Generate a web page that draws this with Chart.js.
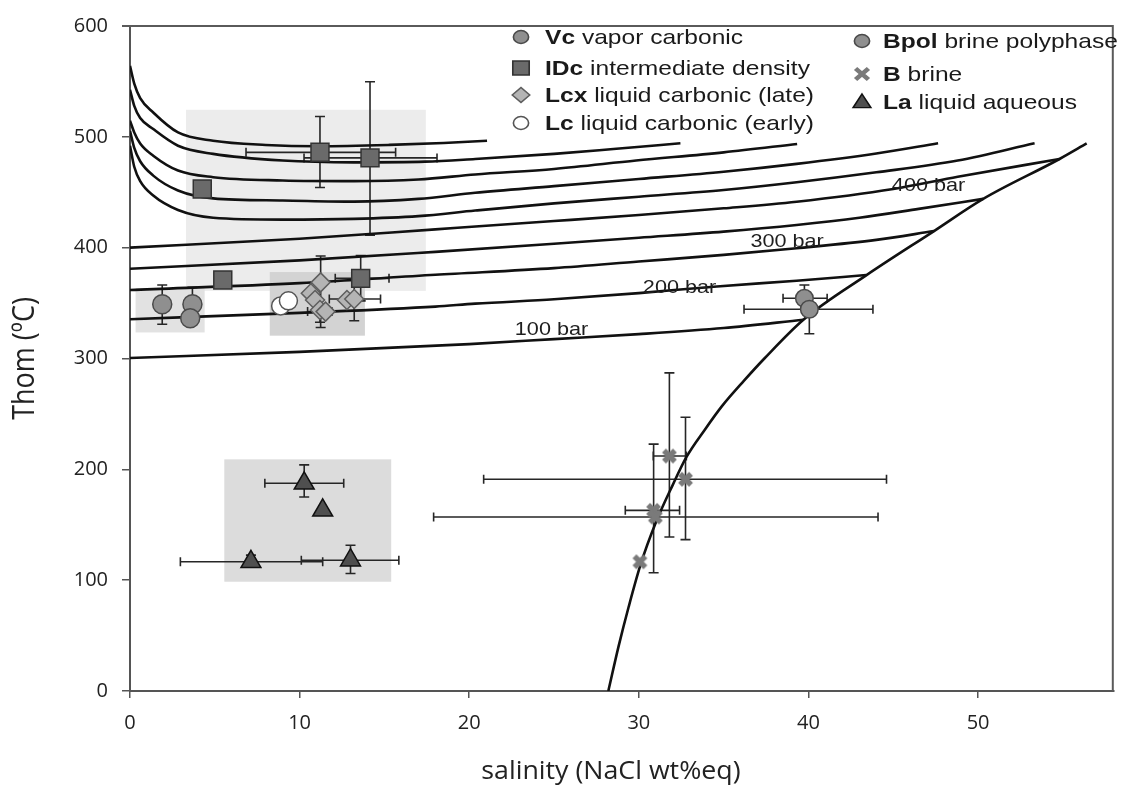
<!DOCTYPE html>
<html><head><meta charset="utf-8">
<script src="https://cdn.jsdelivr.net/npm/chart.js@4.4.0/dist/chart.umd.min.js"></script>
<style>html,body{margin:0;padding:0;background:#fff;}canvas{display:block;}</style>
</head><body>
<canvas id="c" width="1128" height="787" style="width:1128px;height:787px"></canvas>
<script>
// ---------- tick labels ----------
const xTicks = [0, 10, 20, 30, 40, 50];
const yTicks = [0, 100, 200, 300, 400, 500, 600];

// ---------- inclusion data (x = salinity, y = Thom) ----------
const vcX = [1.9, 3.68, 3.55];
const vcY = [349, 349, 336.3];
const vcXErr = [null, null, null];
const vcYErr = [[330.9, 366.3], [349, 364.2], null];

const idcX = [11.2, 14.15, 4.26, 5.47, 13.6];
const idcY = [486, 481, 453, 370.8, 372.3];
const idcXErr = [[6.84, 15.66], [10.26, 18.1], null, null, [12.1, 15.27]];
const idcYErr = [[454.3, 518.4], [411.2, 549.7], null, null, [352, 393]];

const lcxX = [11.24, 10.66, 10.91, 11.2, 11.53, 12.79, 13.22];
const lcxY = [368.7, 358.8, 352.8, 343.8, 342.3, 352.8, 353.7];
const lcxXErr = [null, null, null, null, [10.47, 11.9], null, [11.75, 14.77]];
const lcxYErr = [[328, 392.5], null, null, [332.7, 371.7], null, null, [334, 372]];

const lcX = [8.88, 9.34];
const lcY = [347.4, 352];

const bpolX = [39.76, 40.05];
const bpolY = [354.3, 344.4];
const bpolXErr = [[38.5, 41.1], [36.2, 43.8]];
const bpolYErr = [[354.3, 366.3], [322.3, 344.4]];

const brineX = [31.8, 32.75, 30.87, 30.97, 30.06];
const brineY = [212, 191, 163, 157, 116.6];
const brineXErr = [[30.85, 32.8], [20.85, 44.6], [29.2, 32.4], [17.9, 44.1], null];
const brineYErr = [[139, 287], [136.6, 247], [106.7, 222.7], null, null];

const laX = [10.27, 11.36, 7.13, 13.0];
const laY = [187.4, 163, 116.6, 118];
const laXErr = [[7.95, 12.6], null, [2.97, 11.36], [10.1, 15.85]];
const laYErr = [[175, 204], null, [113, 122.6], [106, 131.5]];

// ---------- shaded fields (salinity / Thom ranges) ----------
const boxX0 = [3.3, 0.33, 8.24, 5.56];
const boxX1 = [17.44, 4.4, 13.85, 15.4];
const boxY0 = [361, 323.5, 320.6, 98.6];
const boxY1 = [524.4, 363.5, 378, 209];

// ---------- isobars ----------
const iso1X = [0, 10, 20, 25, 30, 35, 39.7];
const iso1Y = [300.4, 306, 313, 317.5, 322, 327.5, 334.9];
const iso2X = [0, 10, 18, 20.35, 25, 30, 34.6, 39.3, 43.4];
const iso2Y = [335.4, 341.2, 346.8, 349.5, 353.4, 359, 365, 370.2, 375.3];
const iso3X = [0, 10, 18, 25, 30, 35, 39.3, 44, 47.4];
const iso3Y = [361.8, 368, 375.5, 381.5, 387.5, 393.5, 399.5, 407, 415];
const iso4X = [0, 10, 18, 25, 30, 35, 39.3, 43, 46.5, 50.3];
const iso4Y = [381, 388.5, 396.2, 403.5, 409, 414.5, 420.5, 427, 435, 444];
const iso5X = [0, 10, 18, 25, 30, 35, 39.3, 45, 48.8, 54.8];
const iso5Y = [400, 408, 416.5, 424, 429.5, 435.5, 441.5, 453, 464, 480];
const iso6X = [0, 0.25, 0.6, 1.37, 2.83, 4.9, 9, 13.2, 17, 20.35, 25, 30, 35, 39.3, 44, 48.8, 53.33];
const iso6Y = [492, 473, 460, 447, 434, 427, 425.3, 426, 428.5, 433.5, 440, 446, 452, 459, 468, 478.6, 494.2];
const iso7X = [0, 0.25, 0.6, 1.37, 2.83, 4.9, 9, 13.2, 17, 20.35, 25, 30, 35, 39.3, 44, 47.64];
const iso7Y = [505.5, 490, 478, 465, 451.6, 444.5, 442.6, 441.5, 444, 449.5, 455.5, 462, 468.5, 475.6, 485, 494.2];
const iso8X = [0, 0.25, 0.6, 1.37, 2.83, 4.9, 9, 13.2, 17, 20.35, 25, 29.84, 35, 39.33];
const iso8Y = [514.5, 504, 494, 483, 469.6, 463.6, 460.6, 460, 461.5, 466, 471, 478.6, 486, 493.6];
const iso9X = [0, 0.25, 0.6, 1.37, 2.83, 4.9, 9, 13.2, 17.4, 20.35, 25, 28.5, 32.45];
const iso9Y = [542.5, 528, 517, 507, 492, 484.6, 478.6, 477, 477.6, 480, 484.6, 489, 494.2];
const iso10X = [0, 0.25, 0.6, 1.37, 2.83, 4.9, 8, 11.1, 15.3, 18.5, 21.05];
const iso10Y = [564, 548, 535, 522, 504, 496.5, 492.7, 491.5, 492.7, 494.5, 496.5];

// halite saturation curve
const haliteX = [28.2, 28.8, 29.4, 30.1, 31.0, 32.0, 32.8, 33.9, 34.9, 36.2, 37.4, 39.7, 43.4, 47.4, 50.3, 54.8, 56.4];
const haliteY = [0, 40, 76, 114, 152, 186, 211, 236, 257, 280, 300, 335, 375, 415, 444, 480, 494];

// isobar labels
const barLabels = ['100 bar', '200 bar', '300 bar', '400 bar'];
const barLabelX = [24.85, 32.4, 38.74, 47.08];
const barLabelY = [325.5, 363.8, 404.8, 455.4];

// legend
const legendBold = ['Vc', 'IDc', 'Lcx', 'Lc', 'Bpol', 'B', 'La'];
const legendText = [' vapor carbonic', ' intermediate density', ' liquid carbonic (late)', ' liquid carbonic (early)', ' brine polyphase', ' brine', ' liquid aqueous'];

// ---------- styling ----------
const STRETCH = 1.17;
const boxFill = ['#ececec', '#e2e2e2', '#d3d3d3', '#dcdcdc'];
const styles = {
  vc:   {shape: 'circle', fill: '#8f8f8f', stroke: '#4a4a4a'},
  idc:  {shape: 'rect', fill: '#6a6a6a', stroke: '#333333'},
  lcx:  {shape: 'rectRot', fill: '#b4b4b4', stroke: '#5e5e5e'},
  lc:   {shape: 'circle', fill: '#ffffff', stroke: '#555555'},
  bpol: {shape: 'circle', fill: '#8f8f8f', stroke: '#4a4a4a'},
  brine:{shape: 'x', fill: '#7a7a7a', stroke: '#7a7a7a'},
  la:   {shape: 'triangle', fill: '#4f4f4f', stroke: '#111111'}
};

function makeX(size, lw, color) {
  const c = document.createElement('canvas');
  c.width = size; c.height = size;
  const g = c.getContext('2d');
  g.strokeStyle = color; g.lineWidth = lw; g.lineCap = 'butt';
  const m = lw * 0.55;
  g.beginPath();
  g.moveTo(m, m); g.lineTo(size - m, size - m);
  g.moveTo(size - m, m); g.lineTo(m, size - m);
  g.stroke();
  return c;
}
const brineImg = makeX(17, 5.5, '#7a7a7a');

const pts = (xs, ys) => xs.map((v, i) => ({x: v, y: ys[i]}));
function markerSet(label, xs, ys, st, r) {
  return {
    label, data: pts(xs, ys), showLine: false, order: 0,
    pointStyle: st.shape === 'x' ? brineImg : st.shape,
    pointRadius: r, pointHoverRadius: r,
    backgroundColor: st.fill, borderColor: st.stroke, borderWidth: 1.5
  };
}
function lineSet(xs, ys) {
  return {
    data: pts(xs, ys), showLine: true, pointRadius: 0, borderColor: '#111',
    borderWidth: 2.6, cubicInterpolationMode: 'monotone', fill: false, order: 5
  };
}

const errorGroups = [
  [vcX, vcY, vcXErr, vcYErr], [idcX, idcY, idcXErr, idcYErr], [lcxX, lcxY, lcxXErr, lcxYErr],
  [bpolX, bpolY, bpolXErr, bpolYErr], [brineX, brineY, brineXErr, brineYErr], [laX, laY, laXErr, laYErr]
];

function drawShape(ctx, shape, x, y, r, fill, stroke) {
  ctx.beginPath();
  if (shape === 'circle') ctx.arc(x, y, r, 0, Math.PI * 2);
  else if (shape === 'rect') ctx.rect(x - r, y - r, 2 * r, 2 * r);
  else if (shape === 'rectRot') { ctx.moveTo(x - r, y); ctx.lineTo(x, y - r); ctx.lineTo(x + r, y); ctx.lineTo(x, y + r); ctx.closePath(); }
  else if (shape === 'triangle') { ctx.moveTo(x, y - r); ctx.lineTo(x + r * 0.95, y + r * 0.7); ctx.lineTo(x - r * 0.95, y + r * 0.7); ctx.closePath(); }
  if (shape === 'x') {
    ctx.strokeStyle = fill; ctx.lineWidth = 4;
    ctx.moveTo(x - r, y - r); ctx.lineTo(x + r, y + r);
    ctx.moveTo(x + r, y - r); ctx.lineTo(x - r, y + r);
    ctx.stroke(); return;
  }
  ctx.fillStyle = fill; ctx.fill();
  ctx.strokeStyle = stroke; ctx.lineWidth = 1.4; ctx.stroke();
}

function stretchedText(ctx, parts, x, y, S, align) {
  ctx.save();
  ctx.translate(x, y); ctx.scale(S, 1);
  ctx.textBaseline = 'middle';
  let total = 0;
  parts.forEach(p => { ctx.font = p.font; total += ctx.measureText(p.t).width; });
  let cx = align === 'center' ? -total / 2 : 0;
  ctx.textAlign = 'left';
  parts.forEach(p => { ctx.font = p.font; ctx.fillStyle = p.color || '#222'; ctx.fillText(p.t, cx, 0); cx += ctx.measureText(p.t).width; });
  ctx.restore();
}

const extras = {
  id: 'extras',
  beforeDatasetsDraw(chart) {
    const {ctx, scales: {x, y}} = chart;
    ctx.save();
    boxX0.forEach((v, i) => {
      const px0 = x.getPixelForValue(v), px1 = x.getPixelForValue(boxX1[i]);
      const py0 = y.getPixelForValue(boxY1[i]), py1 = y.getPixelForValue(boxY0[i]);
      ctx.fillStyle = boxFill[i];
      ctx.fillRect(px0, py0, px1 - px0, py1 - py0);
    });
    ctx.strokeStyle = '#262626'; ctx.lineWidth = 1.6;
    errorGroups.forEach(([xs, ys, xe, ye]) => {
      xs.forEach((xv, i) => {
        const px = x.getPixelForValue(xv), py = y.getPixelForValue(ys[i]);
        if (xe[i]) {
          const a = x.getPixelForValue(xe[i][0]), b = x.getPixelForValue(xe[i][1]);
          ctx.beginPath();
          ctx.moveTo(a, py); ctx.lineTo(b, py);
          ctx.moveTo(a, py - 4.5); ctx.lineTo(a, py + 4.5);
          ctx.moveTo(b, py - 4.5); ctx.lineTo(b, py + 4.5);
          ctx.stroke();
        }
        if (ye[i]) {
          const a = y.getPixelForValue(ye[i][0]), b = y.getPixelForValue(ye[i][1]);
          ctx.beginPath();
          ctx.moveTo(px, a); ctx.lineTo(px, b);
          ctx.moveTo(px - 5, a); ctx.lineTo(px + 5, a);
          ctx.moveTo(px - 5, b); ctx.lineTo(px + 5, b);
          ctx.stroke();
        }
      });
    });
    ctx.restore();
  },
  afterDatasetsDraw(chart) {
    const {ctx, scales: {x, y}} = chart;
    barLabels.forEach((t, i) => {
      stretchedText(ctx, [{t, font: '18.5px "Liberation Sans", Arial, sans-serif', color: '#1e1e1e'}],
        x.getPixelForValue(barLabelX[i]), y.getPixelForValue(barLabelY[i]), STRETCH, 'center');
    });
  },
  afterDraw(chart) {
    const {ctx, chartArea: a} = chart;
    ctx.save();
    // frame top and right
    ctx.strokeStyle = '#5a5a5a'; ctx.lineWidth = 2;
    ctx.beginPath();
    ctx.moveTo(a.left - 8, a.top); ctx.lineTo(a.right, a.top);
    ctx.moveTo(a.right - 1, a.top); ctx.lineTo(a.right - 1, a.bottom);
    ctx.stroke();
    // legend
    const keys = ['vc', 'idc', 'lcx', 'lc', 'bpol', 'brine', 'la'];
    const mx = [521, 521, 521, 521, 862, 862, 862];
    const tx = [545, 545, 545, 545, 883, 883, 883];
    const ly = [37, 68, 95, 123, 41, 74, 102];
    const mr = [6.5, 7, 7.5, 6.5, 6.5, 5.5, 8];
    keys.forEach((k, i) => {
      const st = styles[k];
      ctx.save();
      ctx.translate(mx[i], ly[i]); ctx.scale(STRETCH, 1);
      drawShape(ctx, st.shape, 0, 0, mr[i], st.fill, st.stroke);
      ctx.restore();
      stretchedText(ctx, [
        {t: legendBold[i], font: 'bold 21px "Liberation Sans", Arial, sans-serif', color: '#1a1a1a'},
        {t: legendText[i], font: '21px "Liberation Sans", Arial, sans-serif', color: '#1a1a1a'}
      ], tx[i], ly[i] + 1, STRETCH, 'left');
    });
    // axis titles
    stretchedText(ctx, [{t: 'salinity (NaCl wt%eq)', font: '25px "Open Sans", sans-serif', color: '#222'}],
      (a.left + a.right) / 2 - 11, 772, 1.07, 'center');
    ctx.save();
    ctx.translate(25, (a.top + a.bottom) / 2);
    ctx.rotate(-Math.PI / 2);
    ctx.scale(1, STRETCH);
    ctx.font = '27px "Open Sans", sans-serif';
    ctx.fillStyle = '#222';
    ctx.textAlign = 'center'; ctx.textBaseline = 'middle';
    ctx.fillText('Thom (ºC)', 0, 0);
    ctx.restore();
    ctx.restore();
  }
};

Chart.defaults.font.family = '"Open Sans", sans-serif';
new Chart(document.getElementById('c'), {
  type: 'scatter',
  data: {
    datasets: [
      markerSet('Vc vapor carbonic', vcX, vcY, styles.vc, 9.5),
      markerSet('IDc intermediate density', idcX, idcY, styles.idc, 12.7),
      markerSet('Lcx liquid carbonic (late)', lcxX, lcxY, styles.lcx, 9.5),
      markerSet('Lc liquid carbonic (early)', lcX, lcY, styles.lc, 9),
      markerSet('Bpol brine polyphase', bpolX, bpolY, styles.bpol, 8.8),
      markerSet('B brine', brineX, brineY, styles.brine, 8.5),
      markerSet('La liquid aqueous', laX, laY, styles.la, 11.5),
      lineSet(iso1X, iso1Y), lineSet(iso2X, iso2Y), lineSet(iso3X, iso3Y), lineSet(iso4X, iso4Y),
      lineSet(iso5X, iso5Y), lineSet(iso6X, iso6Y), lineSet(iso7X, iso7Y), lineSet(iso8X, iso8Y),
      lineSet(iso9X, iso9Y), lineSet(iso10X, iso10Y), lineSet(haliteX, haliteY)
    ]
  },
  options: {
    responsive: false, animation: false, events: [],
    layout: {padding: {left: 0, right: 0, top: 23, bottom: 0}},
    plugins: {legend: {display: false}, tooltip: {enabled: false}},
    scales: {
      x: {
        type: 'linear', min: 0, max: 58,
        afterBuildTicks: s => { s.ticks = xTicks.map(v => ({value: v})); },
        afterFit: s => { s.height = 96; },
        ticks: {font: {size: 20}, color: '#222', padding: 13, includeBounds: false},
        grid: {drawOnChartArea: false, tickLength: 7, color: '#555', lineWidth: 1.5},
        border: {display: true, color: '#555', width: 2}
      },
      y: {
        type: 'linear', min: 0, max: 600,
        afterBuildTicks: s => { s.ticks = yTicks.map(v => ({value: v})); },
        afterFit: s => { s.width = 130; },
        ticks: {font: {size: 20}, color: '#222', padding: 14},
        grid: {drawOnChartArea: false, tickLength: 8, color: '#555', lineWidth: 1.5},
        border: {display: true, color: '#555', width: 2}
      }
    }
  },
  plugins: [extras]
});
</script>
</body></html>
